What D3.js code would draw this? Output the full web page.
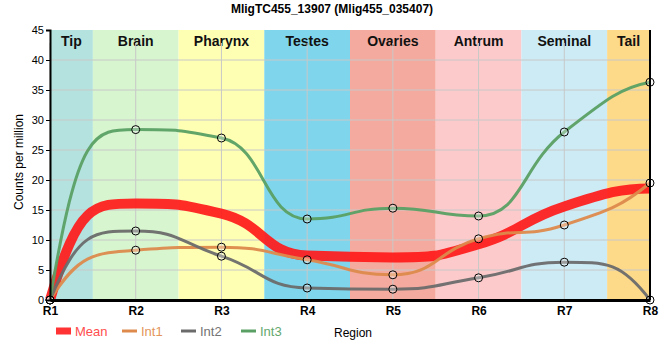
<!DOCTYPE html>
<html><head><meta charset="utf-8">
<script src="https://cdn.jsdelivr.net/npm/d3@7"></script>
<style>body{margin:0;background:#fff;font-family:"Liberation Sans",Arial,sans-serif}</style>
</head><body><svg id="c" width="660" height="360"></svg>
<script>
const regions = ["R1","R2","R3","R4","R5","R6","R7","R8"];
const tissues = ["Tip","Brain","Pharynx","Testes","Ovaries","Antrum","Seminal","Tail"];
const tissueColors = ["#b3e2df","#d7f5cf","#ffffb4","#7fd5ec","#f4aa9e","#fdcacb","#ccebf5","#fdd98a"];
const meanVals = [0, 16.1, 14.4, 7.4, 7.1, 9.3, 15.6, 18.6];
const int1 = [0, 8.3, 8.8, 6.7, 4.2, 10.2, 12.5, 19.5];
const int2 = [0, 11.5, 7.3, 2.0, 1.8, 3.7, 6.3, 0];
const int3 = [0, 28.4, 27.0, 13.5, 15.3, 14.0, 28.0, 36.3];
const yTicks = [0,5,10,15,20,25,30,35,40,45];
const title = "MligTC455_13907 (Mlig455_035407)";

// smooth curve: flat-ish near points, long control arms
function curveSmooth(context){
  let xs=[], ys=[];
  return {
    areaStart(){}, areaEnd(){},
    lineStart(){ xs=[]; ys=[]; },
    point(x,y){ xs.push(+x); ys.push(+y); },
    lineEnd(){
      const n = xs.length; if(!n) return;
      context.moveTo(xs[0], ys[0]);
      if(n===1) return;
      const s=[]; for(let i=0;i<n-1;i++) s[i]=(ys[i+1]-ys[i])/(xs[i+1]-xs[i]);
      const m=new Array(n).fill(0);
      for(let i=1;i<n-1;i++){
        const a=s[i-1], b=s[i];
        m[i] = (a*b<=0) ? 0 : Math.sign(a)*2*Math.min(Math.abs(a),Math.abs(b),Math.abs(a+b)/4);
      }
      const endT=(sl, mn)=>{ let v=3*sl-2*mn; if(v*sl<0) v=0; if(Math.abs(v)>3*Math.abs(sl)) v=3*sl; return v; };
      if(n>2){ m[0]=endT(s[0],m[1]); m[n-1]=endT(s[n-2],m[n-2]); } else { m[0]=m[1]=s[0]; }
      for(let i=0;i<n-1;i++){
        const dx=xs[i+1]-xs[i];
        const k0 = i===0?1/3:0.5, k1 = i===n-2?1/3:0.5;
        const lo=Math.min(ys[i],ys[i+1]), hi=Math.max(ys[i],ys[i+1]);
        const c1y=Math.max(lo,Math.min(hi, ys[i]+m[i]*k0*dx));
        const c2y=Math.max(lo,Math.min(hi, ys[i+1]-m[i+1]*k1*dx));
        context.bezierCurveTo(xs[i]+k0*dx, c1y, xs[i+1]-k1*dx, c2y, xs[i+1], ys[i+1]);
      }
    }
  };
}

const svg = d3.select("#c");
const m = {l:50, r:10, t:30, b:60};
const W = 660, H = 360;
const x = d3.scalePoint().domain(regions).range([m.l, W - m.r]);
const y = d3.scaleLinear().domain([0,45]).range([H - m.b, m.t]);
const step = x.step();

// bands
tissues.forEach((t,i)=>{
  const cx = x(regions[i]);
  const x0 = Math.max(m.l, cx - step/2), x1 = Math.min(W - m.r, cx + step/2);
  svg.append("rect").attr("x",x0).attr("y",m.t).attr("width",x1-x0).attr("height",y(0)-m.t).attr("fill",tissueColors[i]);
  svg.append("text").attr("x",(x0+x1)/2).attr("y",m.t+16).attr("text-anchor","middle")
   .attr("font-size",14).attr("font-weight","bold").attr("fill","#111").text(t);
});
// grid
yTicks.slice(1,-1).forEach(v=>{
  svg.append("line").attr("x1",m.l).attr("x2",W-m.r).attr("y1",y(v)).attr("y2",y(v)).attr("stroke","#c8c8c8").attr("stroke-width",1);
});
regions.forEach(r=>{
  svg.append("line").attr("x1",x(r)).attr("x2",x(r)).attr("y1",m.t+13).attr("y2",y(0)).attr("stroke","#c8c8c8").attr("stroke-width",1);
});

const line = d3.line().x((d,i)=>x(regions[i])).y(d=>y(d)).curve(curveSmooth);
const series = [
  {name:"Int1", vals:int1, color:"#dd8a4c", w:3},
  {name:"Int2", vals:int2, color:"#6b6b6b", w:3},
  {name:"Int3", vals:int3, color:"#5aa064", w:3}
];
svg.append("path").attr("d",line(meanVals)).attr("fill","none").attr("stroke","#ff1a1a").attr("stroke-opacity",0.92).attr("stroke-width",10);
series.forEach(s=>{
  svg.append("path").attr("d",line(s.vals)).attr("fill","none").attr("stroke",s.color).attr("stroke-width",s.w).attr("stroke-opacity",0.95);
});
series.forEach(s=>{
  s.vals.forEach((v,i)=>{
    svg.append("circle").attr("cx",x(regions[i])).attr("cy",y(v)).attr("r",4)
      .attr("fill","#ffffff").attr("fill-opacity",0.3).attr("stroke","#000").attr("stroke-width",1);
  });
});

// axes
const ya = svg.append("g").attr("transform",`translate(${m.l},0)`)
  .call(d3.axisLeft(y).tickValues(yTicks).tickSize(4).tickPadding(2));
ya.select(".domain").attr("stroke","#000").attr("stroke-width",2);
ya.selectAll("text").attr("font-size",11).attr("fill","#000").attr("font-family","Liberation Sans, Arial");
const xa = svg.append("g").attr("transform",`translate(0,${y(0)})`)
  .call(d3.axisBottom(x).tickSize(0).tickPadding(6));
xa.select(".domain").attr("stroke","#000").attr("stroke-width",3);
xa.selectAll("text").attr("font-size",12).attr("font-weight","bold").attr("fill","#000").attr("font-family","Liberation Sans, Arial");
svg.append("line").attr("x1",W-m.r).attr("x2",W-m.r).attr("y1",m.t).attr("y2",y(0)).attr("stroke","#000").attr("stroke-width",2);

// titles
svg.append("text").attr("x",332).attr("y",13).attr("text-anchor","middle").attr("font-size",12).attr("font-weight","bold").text(title);
svg.append("text").attr("transform",`translate(23,162) rotate(-90)`).attr("text-anchor","middle").attr("font-size",12).text("Counts per million");
svg.append("text").attr("x",353).attr("y",337).attr("text-anchor","middle").attr("font-size",12).text("Region");

// legend
const leg = [
  {name:"Mean", color:"#ff3333", tc:"#ff4d4d", w:7, x:56},
  {name:"Int1", color:"#dd8a4c", tc:"#e3955a", w:3, x:122},
  {name:"Int2", color:"#6b6b6b", tc:"#737373", w:3, x:181},
  {name:"Int3", color:"#5aa064", tc:"#64a86e", w:3, x:241}
];
leg.forEach(d=>{
  svg.append("line").attr("x1",d.x).attr("x2",d.x+15).attr("y1",331).attr("y2",331).attr("stroke",d.color).attr("stroke-width",d.w);
  svg.append("text").attr("x",d.x+19).attr("y",336).attr("font-size",13).attr("fill",d.tc).text(d.name);
});
</script></body></html>
